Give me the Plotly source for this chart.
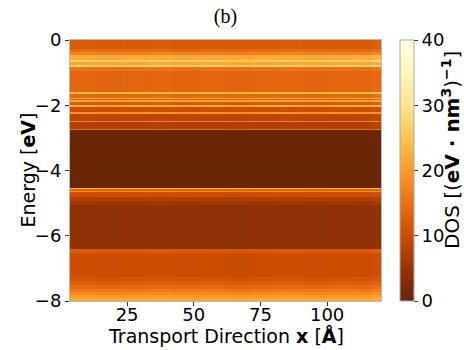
import plotly.graph_objects as go

# Energy band edges (eV, top -> bottom) and DOS values per band
band_edges = [0.00, -0.28, -0.36, -0.46, -0.60, -0.66, -0.78, -0.84, -0.95, -1.60,
              -1.65, -1.77, -1.81, -1.85, -1.89, -2.00, -2.04, -2.22, -2.27, -2.47,
              -2.52, -2.72, -2.76, -4.53, -4.58, -4.63, -4.67, -4.80, -4.92, -5.05,
              -6.42, -6.52, -7.25, -7.40, -7.52, -7.62, -7.72, -7.82, -7.92, -8.00]
band_dos = [12.0, 14.0, 17.0, 22.0, 27.0, 21.0, 27.0, 15.0, 13.5, 24.0,
            14.0, 22.0, 13.0, 21.0, 12.0, 22.0, 10.0, 19.0, 8.5, 17.0,
            7.5, 14.0, 0.4, 24.0, 13.0, 18.0, 10.0, 7.5, 5.5, 4.0,
            12.0, 10.0, 11.0, 12.5, 14.0, 16.0, 18.0, 20.0, 21.5]

# Transport-direction column edges (Å) and small column-wise variation
x_edges = [3.6, 13.3, 23.0, 32.7, 42.4, 52.1, 61.8, 71.5, 81.2, 90.9, 100.6, 110.3, 117.0, 120.2]
col_factor = [1.01, 0.99, 1.00, 1.015, 0.995, 1.005, 0.985, 1.00, 1.01, 0.99, 1.005, 1.00, 1.05]

x_ticks = [25, 50, 75, 100]
y_ticks = [0, -2, -4, -6, -8]
cbar_ticks = [0, 10, 20, 30, 40]

ylorbr_r = ['#662506', '#993404', '#cc4c02', '#ec7014', '#fe9929',
            '#fec44f', '#fee391', '#fff7bc', '#ffffe5']
colorscale = [[i / (len(ylorbr_r) - 1), c] for i, c in enumerate(ylorbr_r)]

z = [[v * f for f in col_factor] for v in band_dos]

font = "DejaVu Sans"
fig = go.Figure(go.Heatmap(
    x=x_edges, y=band_edges, z=z,
    colorscale=colorscale, zmin=0, zmax=40,
    colorbar=dict(
        x=(400 - 70) / 311, xanchor="left", xref="paper", xpad=0, ypad=0,
        y=0.5, yanchor="middle", len=1, lenmode="fraction",
        thickness=14, outlinewidth=1, outlinecolor="#aaaaaa",
        tickvals=cbar_ticks, ticks="outside", ticklen=4, tickcolor="#333",
        tickfont=dict(family=font, size=18, color="black"),
    ),
    showscale=True,
))

fig.update_layout(
    width=464, height=350,
    margin=dict(l=70, r=83, t=40, b=49, autoexpand=False),
    paper_bgcolor="white", plot_bgcolor="white",
    title=dict(text="(b)", x=0.5, xref="paper", y=1 - 16 / 350, yanchor="middle",
               font=dict(family="Liberation Serif", size=20, color="black")),
    xaxis=dict(range=[3.6, 120.2], tickvals=x_ticks, ticks="outside", ticklen=4,
               tickcolor="#333", showgrid=False, zeroline=False,
               showline=True, linecolor="#bbbbbb", mirror=True,
               ticklabelstandoff=-7,
               tickfont=dict(family=font, size=18, color="black")),
    yaxis=dict(range=[-8, 0], tickvals=y_ticks, ticks="outside", ticklen=4,
               tickcolor="#333", showgrid=False, zeroline=False,
               showline=True, linecolor="#bbbbbb", mirror=True,
               tickfont=dict(family=font, size=18, color="black")),
    annotations=[
        dict(text="Transport Direction <b>x</b> [<b>Å</b>]", xref="paper", yref="paper",
             x=0.5, y=-(335 - 301) / 261, xanchor="center", yanchor="middle",
             showarrow=False, font=dict(family=font, size=19, color="black")),
        dict(text="Energy [<b>eV</b>]", xref="paper", yref="paper",
             x=(27 - 70) / 311, y=0.5, xanchor="center", yanchor="middle",
             textangle=-90, showarrow=False,
             font=dict(family=font, size=19, color="black")),
        dict(text="DOS [(<b>eV · nm</b><sup><b>3</b></sup>)<sup><b>−1</b></sup>]",
             xref="paper", yref="paper",
             x=(451 - 70) / 311, y=(301 - 150) / 261, xanchor="center", yanchor="middle",
             textangle=-90, showarrow=False,
             font=dict(family=font, size=20, color="black")),
    ],
)

fig.write_html("out.html", config={"displayModeBar": False},
               post_script="document.body.style.margin='0';document.body.style.padding='0';")
